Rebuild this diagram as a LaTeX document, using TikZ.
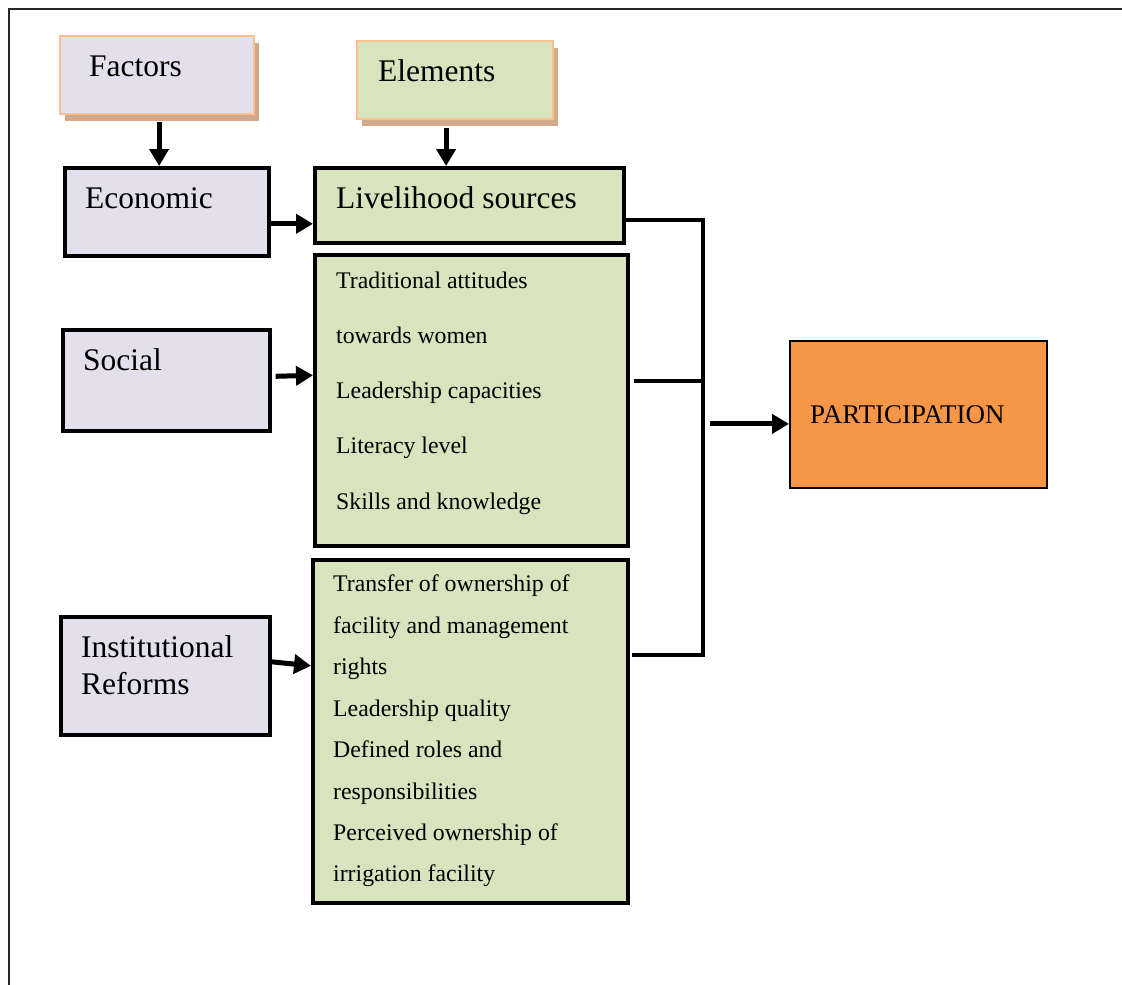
\documentclass[tikz,border=0pt]{standalone}
\usepackage{fontspec}
\setmainfont{Liberation Serif}
\usetikzlibrary{arrows.meta,shadows}

\definecolor{lavender}{HTML}{E4DFEC}
\definecolor{sage}{HTML}{D7E4BD}
\definecolor{tangerine}{HTML}{F79646}
\definecolor{peach}{HTML}{FAC090}
\definecolor{tan}{HTML}{D3A98B}

\tikzset{
  x=1pt, y=-1pt,
  headbox/.style={draw=peach, line width=2.2pt, anchor=north west, inner sep=0pt,
    drop shadow={shadow xshift=5pt, shadow yshift=-7pt, fill=tan, opacity=1}},
  factorbox/.style={draw=black, line width=3.6pt, fill=lavender, anchor=north west, inner sep=0pt},
  elembox/.style={draw=black, line width=3.6pt, fill=sage, anchor=north west, inner sep=0pt},
  big/.style={anchor=base west, inner sep=0pt, font=\fontsize{31.5}{38}\selectfont},
  small/.style={anchor=base west, inner sep=0pt, font=\fontsize{23.8}{28}\selectfont},
  arr/.style={line width=5pt, -{Triangle[length=17pt,width=19pt]}},
  link/.style={line width=3.8pt},
}

\begin{document}
\begin{tikzpicture}
\useasboundingbox (0,0) rectangle (1122,985);

% page frame
\draw[line width=2.2pt, black!85] (9,985) -- (9,9) -- (1122,9);

% column headings
\node[headbox, fill=lavender, minimum width=194pt, minimum height=78pt] (factors) at (59,35) {};
\node[headbox, fill=sage, minimum width=196pt, minimum height=78pt] (elements) at (356,40) {};
\node[big] (factorsT) at (89,76) {Factors};
\node[big] (elementsT) at (378,81) {Elements};

% factor boxes
\node[factorbox, minimum width=204pt, minimum height=88pt] (economic) at (63,166) {};
\node[factorbox, minimum width=207pt, minimum height=101pt] (social) at (61,328) {};
\node[factorbox, minimum width=209pt, minimum height=118pt] (institutional) at (59,615) {};
\node[big] (economicT) at (85,208) {Economic};
\node[big] (socialT) at (83,370) {Social};
\node[big] (instT1) at (81,657) {Institutional};
\node[big] (instT2) at (81,694) {Reforms};

% element boxes
\node[elembox, minimum width=309pt, minimum height=75pt] (livelihood) at (313,166) {};
\node[elembox, minimum width=313pt, minimum height=291pt] (socialel) at (313,253) {};
\node[elembox, minimum width=315pt, minimum height=343pt] (instel) at (311,558) {};
\node[big] (livelihoodT) at (336,208) {Livelihood sources};

\node[small] (s1) at (336,288) {Traditional attitudes};
\node[small] (s2) at (336,343) {towards women};
\node[small] (s3) at (336,398) {Leadership capacities};
\node[small] (s4) at (336,453) {Literacy level};
\node[small] (s5) at (336,509) {Skills and knowledge};

\node[small] (i1) at (333,591) {Transfer of ownership of};
\node[small] (i2) at (333,633) {facility and management};
\node[small] (i3) at (333,674) {rights};
\node[small] (i4) at (333,716) {Leadership quality};
\node[small] (i5) at (333,757) {Defined roles and};
\node[small] (i6) at (333,799) {responsibilities};
\node[small] (i7) at (333,840) {Perceived ownership of};
\node[small] (i8) at (333,881) {irrigation facility};

% outcome
\node[draw=black, line width=1.8pt, fill=tangerine, anchor=north west, inner sep=0pt,
      minimum width=257pt, minimum height=147pt] (participation) at (789,340) {};
\node[anchor=base west, inner sep=0pt, font=\fontsize{27}{31}\selectfont]
      (participationT) at (810,423) {PARTICIPATION};

% heading arrows
\draw[arr] ([xshift=2pt,yshift=-7pt]factors.south) -- ([xshift=2pt]factors.south |- economic.north);
\draw[arr] ([xshift=-9pt,yshift=-8pt]elements.south) -- ([xshift=-9pt]elements.south |- livelihood.north);

% factor -> element arrows
\draw[arr] ([yshift=-12pt]economic.east) -- ([yshift=-12pt]economic.east -| livelihood.west);
\draw[arr] ([xshift=4pt,yshift=4pt]social.east) -- ([yshift=5pt]socialel.west |- social.east);
\draw[arr] ([yshift=14pt]institutional.east) -- ([yshift=10pt]instel.west |- institutional.east);

% collecting bracket
\coordinate (jt) at (703,220);
\coordinate (jb) at (703,655);
\draw[link] (livelihood.east |- jt) -- (jt) -- (jb) -- ([xshift=2pt]instel.east |- jb);
\draw[link] ([xshift=4pt,yshift=19.5pt]socialel.east) -- ([yshift=19.5pt]jt |- socialel.east);
\draw[arr] ([xshift=7pt,yshift=-9.5pt]jt |- participation.west) -- ([yshift=-9.5pt]participation.west);
\end{tikzpicture}
\end{document}
